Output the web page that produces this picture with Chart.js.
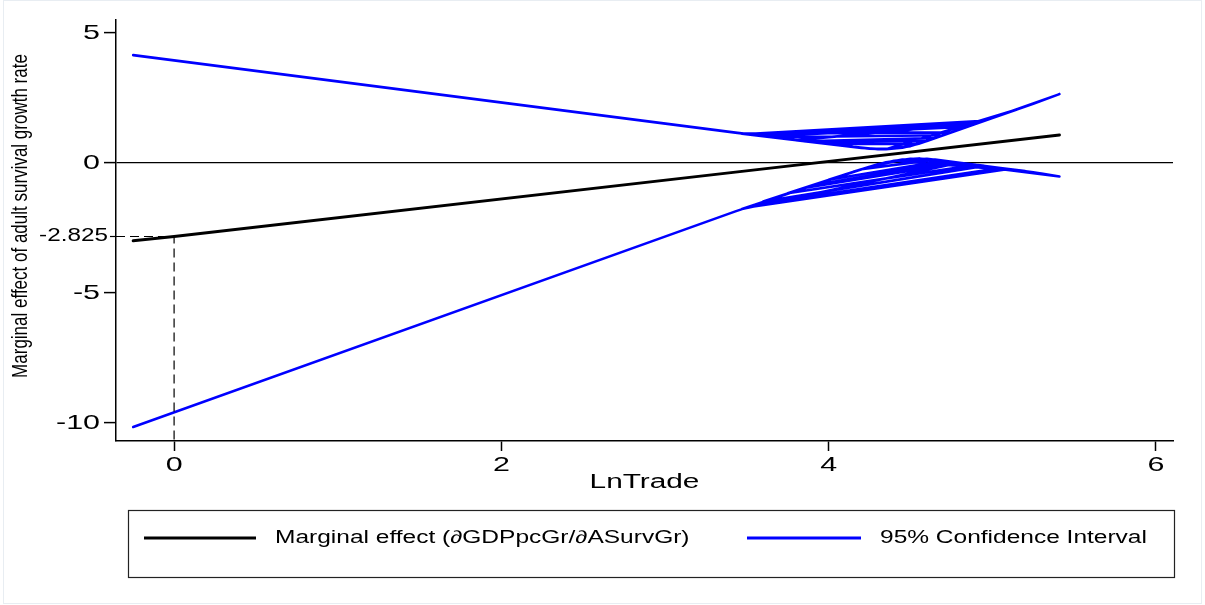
<!DOCTYPE html>
<html>
<head>
<meta charset="utf-8">
<script src="https://cdn.jsdelivr.net/npm/chart.js@4.4.1/dist/chart.umd.min.js"></script>
<style>
  html, body { margin: 0; padding: 0; background: #ffffff; }
  canvas { display: block; }
</style>
</head>
<body>
<canvas id="c" width="1205" height="605"></canvas>
<script>
// ---- data ----
const xTickValues = [0, 2, 4, 6];
const yTickValues = [-10, -5, -2.825, 0, 5];
const xTickLabels = ['0', '2', '4', '6'];
const yTickLabels = ['-10', '-5', '-2.825', '0', '5'];

// marginal effect [LnTrade, effect]
const marginalEffect = [[-0.25, -2.99], [0, -2.825], [3.43, -0.35], [5.41, 1.08]];

// upper 95% bound [LnTrade, value], in the unsorted order the original plot joins them
const upperBound = [
  [-0.25, 4.15], [3.43, 1.17], [4.10, 0.66], [4.25, 0.55], [4.35, 0.53], [4.45, 0.59], [4.55, 0.74],
  [4.65, 0.96], [4.75, 1.18], [4.85, 1.40], [4.95, 1.62],
  [3.50, 1.11], [4.10, 0.66], [4.25, 0.55], [4.40, 0.55], [4.55, 0.74], [4.70, 1.07], [4.85, 1.40],
  [3.60, 1.03], [4.15, 0.62], [4.30, 0.53], [4.45, 0.59], [4.60, 0.85], [4.75, 1.18],
  [3.47, 1.13], [4.20, 0.58], [4.35, 0.53], [4.50, 0.65], [4.65, 0.96], [4.90, 1.51],
  [3.80, 0.88], [4.20, 0.58], [4.35, 0.53], [4.50, 0.65], [4.65, 0.96], [4.80, 1.29], [4.90, 1.51],
  [3.55, 1.07], [4.15, 0.62], [4.30, 0.53], [4.45, 0.59], [4.60, 0.85], [4.70, 1.07],
  [3.65, 0.99], [4.20, 0.58], [4.35, 0.53], [4.50, 0.65], [4.60, 0.85],
  [3.90, 0.81], [4.25, 0.55], [4.40, 0.55], [4.55, 0.74],
  [4.00, 0.73], [4.20, 0.58], [4.35, 0.53], [4.50, 0.65], [4.65, 0.96],
  [3.85, 0.84], [4.25, 0.55], [4.40, 0.55], [4.55, 0.74], [4.70, 1.07], [4.85, 1.40], [5.00, 1.73], [5.15, 2.06],
  [4.35, 0.53], [4.50, 0.65], [4.65, 0.96], [4.80, 1.29], [4.95, 1.62], [5.10, 1.95], [5.25, 2.28], [5.41, 2.65],
  [4.60, 0.85], [4.80, 1.29], [5.00, 1.73], [5.20, 2.17], [5.41, 2.65]
];

// lower 95% bound [LnTrade, value]
const lowerBound = [
  [-0.25, -10.15], [3.43, -1.86], [4.10, -0.44], [4.25, -0.14], [4.40, 0.09], [4.55, 0.17], [4.70, 0.09],
  [4.85, -0.03], [5.00, -0.15], [5.10, -0.23],
  [3.50, -1.71], [4.10, -0.44], [4.30, -0.05], [4.45, 0.13], [4.60, 0.16], [4.75, 0.05], [4.95, -0.11],
  [3.60, -1.48], [4.15, -0.34], [4.35, 0.03], [4.50, 0.16], [4.65, 0.13], [4.80, 0.01],
  [3.47, -1.77], [4.20, -0.24], [4.40, 0.09], [4.55, 0.17], [4.70, 0.09], [4.90, -0.07],
  [3.75, -1.16], [4.20, -0.24], [4.40, 0.09], [4.55, 0.17], [4.70, 0.09], [4.85, -0.03], [5.05, -0.19],
  [3.55, -1.60], [4.15, -0.34], [4.35, 0.03], [4.50, 0.16], [4.65, 0.13], [4.80, 0.01],
  [3.85, -0.96], [4.20, -0.24], [4.40, 0.09], [4.55, 0.17], [4.70, 0.09],
  [4.00, -0.64], [4.25, -0.14], [4.45, 0.13], [4.65, 0.13],
  [4.20, -0.24], [4.40, 0.09], [4.60, 0.16], [4.75, 0.05],
  [3.90, -0.86], [4.25, -0.14], [4.45, 0.13], [4.60, 0.16], [4.80, 0.01], [5.00, -0.15], [5.20, -0.31],
  [4.40, 0.09], [4.60, 0.16], [4.80, 0.01], [5.00, -0.15], [5.15, -0.27], [5.30, -0.40], [5.41, -0.52],
  [4.55, 0.17], [4.80, 0.01], [5.05, -0.19], [5.25, -0.36], [5.41, -0.52]
];

// dashed guide at LnTrade = 0
const guideLine = [[-0.355, -2.825], [0, -2.825], [0, -10.69]];

const xTitle = 'LnTrade';
const yTitle = 'Marginal effect of adult survival growth rate';
const legendLabels = ['Marginal effect (\u2202GDPpcGr/\u2202ASurvGr)', '95% Confidence Interval'];

const pts = arr => arr.map(p => ({ x: p[0], y: p[1] }));
const FONT = "'Liberation Sans', Arial, Helvetica, sans-serif";

function stretchText(ctx, text, x, y, sx, align, size) {
  ctx.save();
  ctx.font = size + 'px ' + FONT;
  ctx.fillStyle = '#000';
  ctx.textBaseline = 'middle';
  ctx.textAlign = align;
  ctx.translate(x, y);
  ctx.scale(sx, 1);
  ctx.fillText(text, 0, 0);
  ctx.restore();
}

const textPlugin = {
  id: 'textPlugin',
  afterDraw(chart) {
    const ctx = chart.ctx;
    const xs = chart.scales.x, ys = chart.scales.y;
    yTickValues.forEach((v, i) => {
      const py = ys.getPixelForValue(v);
      if (v === -2.825) stretchText(ctx, yTickLabels[i], 108, py, 1.35, 'right', 18);
      else stretchText(ctx, yTickLabels[i], 100, py, 1.45, 'right', 21);
    });
    ctx.save();
    ctx.strokeStyle = '#000';
    ctx.lineWidth = 1.2;
    ctx.beginPath();
    const pr = Math.round(ys.getPixelForValue(-2.825)) + 0.5;
    ctx.moveTo(110, pr); ctx.lineTo(116, pr); ctx.stroke();
    ctx.restore();
    xTickValues.forEach((v, i) => {
      stretchText(ctx, xTickLabels[i], xs.getPixelForValue(v), 465, 1.45, 'center', 21);
    });
    const ca = chart.chartArea;
    stretchText(ctx, xTitle, (ca.left + ca.right) / 2, 482, 1.49, 'center', 20);
    ctx.save();
    ctx.font = '17px ' + FONT;
    ctx.fillStyle = '#000';
    ctx.textAlign = 'center';
    ctx.textBaseline = 'middle';
    ctx.translate(21, 216);
    ctx.scale(1.25, 1);
    ctx.rotate(-Math.PI / 2);
    ctx.fillText(yTitle, 0, 0);
    ctx.restore();
    ctx.save();
    ctx.strokeStyle = '#222';
    ctx.lineWidth = 1.2;
    ctx.strokeRect(128.5, 510.5, 1046, 67);
    ctx.lineWidth = 3;
    ctx.strokeStyle = '#000';
    ctx.beginPath(); ctx.moveTo(144, 538); ctx.lineTo(256, 538); ctx.stroke();
    ctx.strokeStyle = '#0000ff';
    ctx.beginPath(); ctx.moveTo(747, 538); ctx.lineTo(861, 538); ctx.stroke();
    ctx.restore();
    stretchText(ctx, legendLabels[0], 275, 538, 1.4, 'left', 17.5);
    stretchText(ctx, legendLabels[1], 880, 538, 1.4, 'left', 17.5);
    ctx.save();
    ctx.strokeStyle = '#e8edf2';
    ctx.lineWidth = 1;
    ctx.strokeRect(3.5, 0.5, 1198, 603);
    ctx.restore();
  }
};

const ciStyle = { borderColor: '#0000ff', borderWidth: 2.6, pointRadius: 0, tension: 0, fill: false,
                  borderJoinStyle: 'round', borderCapStyle: 'round' };

new Chart(document.getElementById('c'), {
  type: 'line',
  data: {
    datasets: [
      { label: legendLabels[0], data: pts(marginalEffect), borderColor: '#000000', borderWidth: 3,
        pointRadius: 0, tension: 0, fill: false, borderCapStyle: 'round' },
      { label: 'guide', data: pts(guideLine), borderColor: '#000000', borderWidth: 1.2,
        borderDash: [9, 5], pointRadius: 0, tension: 0, fill: false },
      Object.assign({ label: legendLabels[1], data: pts(upperBound) }, ciStyle),
      Object.assign({ label: 'lower', data: pts(lowerBound) }, ciStyle)
    ]
  },
  options: {
    responsive: false,
    animation: false,
    layout: { padding: { top: 20, right: 32, left: 0, bottom: 0 } },
    plugins: { legend: { display: false }, tooltip: { enabled: false } },
    scales: {
      x: {
        type: 'linear', min: -0.355, max: 6.104,
        afterBuildTicks: s => { s.ticks = xTickValues.map(v => ({ value: v })); },
        afterFit: s => { s.height = 164; },
        ticks: { display: false },
        grid: { drawOnChartArea: false, drawTicks: true, tickLength: 10, tickColor: '#000', tickWidth: 1.5 },
        border: { display: true, color: '#000', width: 1.5 }
      },
      y: {
        type: 'linear', min: -10.69, max: 5.5,
        afterBuildTicks: s => { s.ticks = yTickValues.map(v => ({ value: v })); },
        afterFit: s => { s.width = 116; },
        ticks: { display: false },
        grid: {
          drawOnChartArea: true, drawTicks: true, tickLength: 12, tickWidth: 1.5,
          color: c => (c.tick && c.tick.value === 0) ? '#000' : 'rgba(0,0,0,0)',
          lineWidth: 1.2,
          tickColor: c => (c.tick && c.tick.value === -2.825) ? 'rgba(0,0,0,0)' : '#000'
        },
        border: { display: true, color: '#000', width: 1.5 }
      }
    }
  },
  plugins: [textPlugin]
});
</script>
</body>
</html>
